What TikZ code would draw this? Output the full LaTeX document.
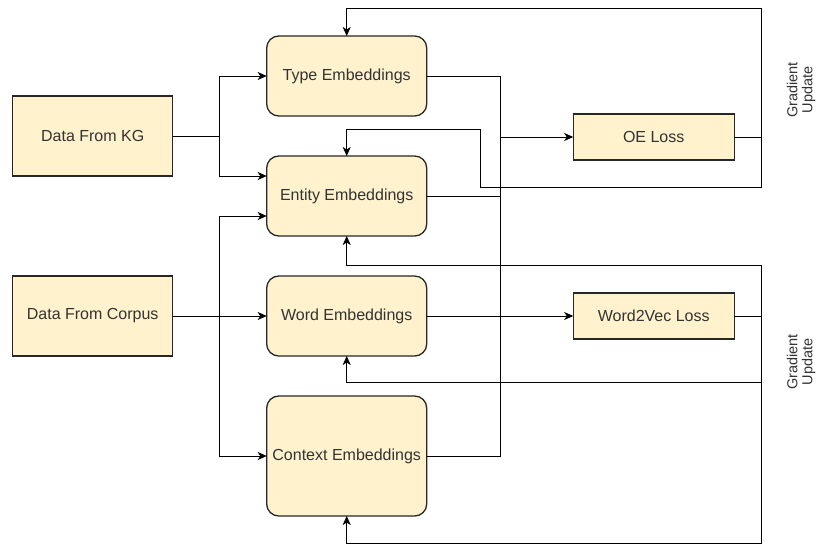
\documentclass[tikz,border=0pt]{standalone}
\usepackage{fontspec}
\setmainfont{Liberation Sans}
\usetikzlibrary{arrows.meta,positioning}
\definecolor{boxfill}{HTML}{FFF2CC}
\definecolor{ink}{HTML}{333333}

\begin{document}
\begin{tikzpicture}[x=1pt,y=-1pt,node distance=40pt,line width=1pt,>={Stealth[length=9pt,width=8pt,inset=2.5pt]}]
\tikzset{
emb/.style = {draw=black!85, line width=1.3pt, fill=boxfill, rounded corners=12pt, minimum width=160pt, minimum height=80pt, outer sep=0pt, text=ink, font=\fontsize{16}{19}\selectfont},
datablock/.style = {draw=black!85, line width=1.3pt, fill=boxfill, minimum width=160pt, minimum height=80pt, outer sep=0pt, text=ink, font=\fontsize{16}{19}\selectfont},
lossblock/.style = {draw=black!85, line width=1.3pt, fill=boxfill, minimum width=161pt, minimum height=46pt, outer sep=0pt, text=ink, font=\fontsize{16}{19}\selectfont},
gradnote/.style = {rotate=90, align=center, text=ink, font=\fontsize{14.5}{15}\selectfont}
}
\useasboundingbox (0,0) rectangle (818,543);

\node [emb] (type) at (346.7,76) {Type Embeddings};
\node [emb, below = of type] (entity) {Entity Embeddings};
\node [emb, below = of entity] (word) {Word Embeddings};
\node [emb, below = of word, minimum height = 120pt] (context) {Context Embeddings};

\node [datablock] (kg) at (92.7,136) {Data From KG};
\node [datablock, left = 94pt of word] (corpus) {Data From Corpus};

\node [lossblock, right = 146.5pt of type.south east, anchor = north west, yshift = 2pt] (oe) {OE Loss};
\node [lossblock, right = 146.5pt of word] (w2v) {Word2Vec Loss};

\node [gradnote] (grad1) at (801,90) {Gradient\\Update};
\node [gradnote] (grad2) at (801,362) {Gradient\\Update};

\coordinate [right = 46.6pt of kg.east] (kgsplit);
\coordinate (bus) at (500,0);
\coordinate (fbtop) at (761,9);
\coordinate (fbbot) at (761,187);
\coordinate (loopin) at (480,129);
\coordinate (fblow) at (761,265.7);
\coordinate (wordfb) at (761,382.7);
\coordinate (fbend) at (761,543);

% inputs
\draw (kg) -- (kgsplit);
\draw [->] (kgsplit) |- (type);
\draw [->] (kgsplit) |- ([yshift=20pt]entity.west);
\draw [->] (corpus) -- (word);
\draw [->] (kgsplit |- corpus) |- ([yshift=-20pt]entity.west);
\draw [->] (kgsplit |- corpus) |- (context);

% outputs
\draw (type) -- (bus |- type) -- (bus |- context) -- (context);
\draw (entity) -- (bus |- entity);
\draw [->] (bus |- oe) -- (oe);
\draw [->] (word) -- (w2v);

% gradient update
\draw [->] (oe) -| (fbtop) -| (type);
\draw [->] (fbtop |- oe) -- (fbbot) -| (loopin) -| (entity);
\draw [->] (w2v) -| (fblow) -| (entity);
\draw [->] (fblow) -- (fbend) -| (context);
\draw [->] (wordfb) -| (word);
\end{tikzpicture}
\end{document}
